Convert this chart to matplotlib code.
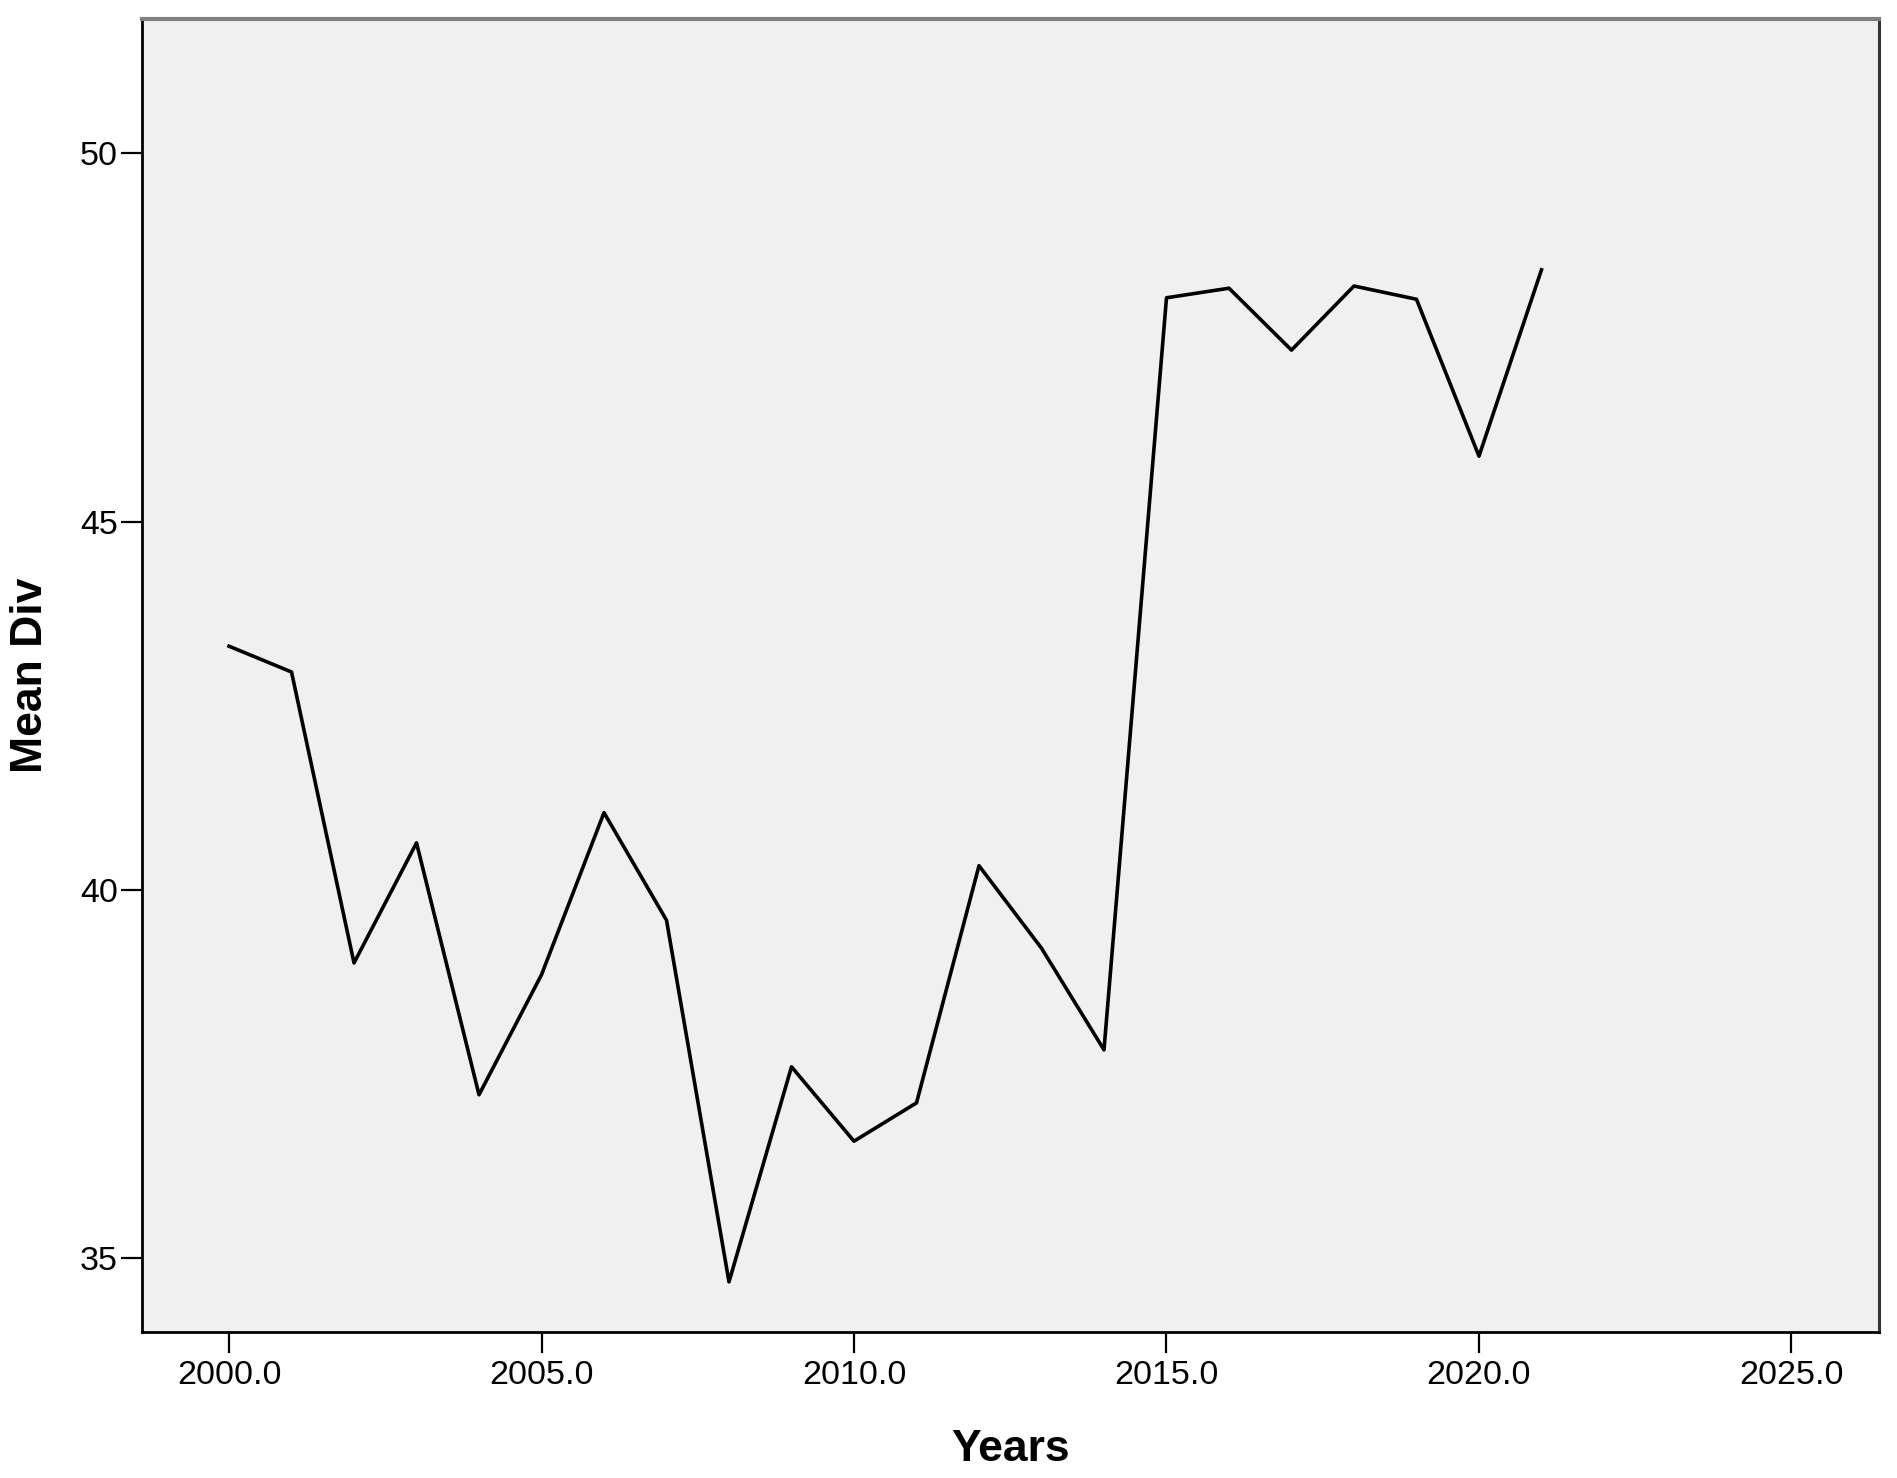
import matplotlib
matplotlib.use("Agg")
import matplotlib.pyplot as plt
from matplotlib.ticker import FormatStrFormatter

years = [2000, 2001, 2002, 2003, 2004, 2005, 2006, 2007, 2008, 2009, 2010,
         2011, 2012, 2013, 2014, 2015, 2016, 2017, 2018, 2019, 2020, 2021]
mean_div = [43.31, 42.96, 39.01, 40.64, 37.22, 38.85, 41.05, 39.59, 34.68, 37.60, 36.59,
            37.11, 40.33, 39.21, 37.83, 48.04, 48.17, 47.33, 48.20, 48.02, 45.89, 48.42]
x_ticks = [2000, 2005, 2010, 2015, 2020, 2025]
y_ticks = [35, 40, 45, 50]

plt.rcParams["font.family"] = ["Liberation Sans", "DejaVu Sans"]

fig = plt.figure(figsize=(18.97, 14.78), dpi=100)
ax = fig.add_axes([0.0746, 0.0988, 0.9159, 0.8881])
ax.set_facecolor("#f0f0f0")

ax.plot(years, mean_div, color="black", linewidth=2.6)

ax.set_xlim(1998.6, 2026.4)
ax.set_ylim(34.0, 51.82)
ax.set_xticks(x_ticks)
ax.set_yticks(y_ticks)
ax.xaxis.set_major_formatter(FormatStrFormatter("%.1f"))

ax.tick_params(axis="both", direction="out", length=15, width=1.6,
               labelsize=24.5, colors="black")
ax.tick_params(axis="y", pad=2)
ax.tick_params(axis="x", pad=5)

ax.spines["left"].set_color("black")
ax.spines["bottom"].set_color("black")
ax.spines["top"].set_color("#808080")
ax.spines["right"].set_color("#333333")
ax.spines["left"].set_linewidth(2)
ax.spines["bottom"].set_linewidth(2)
ax.spines["top"].set_linewidth(3)
ax.spines["right"].set_linewidth(2.2)

ax.set_xlabel("Years", fontsize=32, fontweight="bold")
ax.set_ylabel("Mean Div", fontsize=32, fontweight="bold")
ax.xaxis.set_label_coords(0.5, -0.074)
ax.yaxis.set_label_coords(-0.052, 0.5)

fig.savefig("out.png", dpi=100)
